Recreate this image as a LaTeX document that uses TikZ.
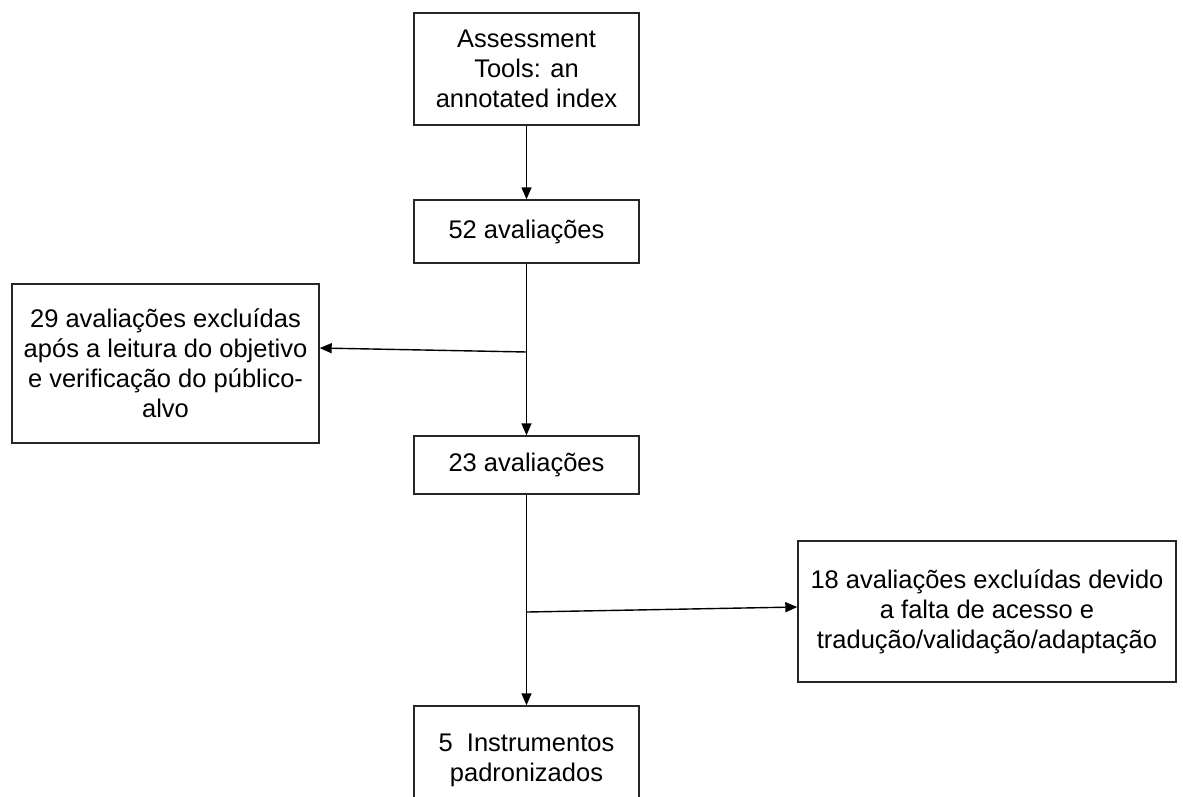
\documentclass[tikz,border=0pt]{standalone}
\usepackage{fontspec}
\setmainfont{Liberation Sans}
\usetikzlibrary{arrows.meta,calc}
\begin{document}
\begin{tikzpicture}[x=1pt,y=-1pt,
  box/.style={draw=black!85, line width=1.4pt, rectangle, align=center, inner sep=0pt,
    font=\fontsize{25.5}{30}\selectfont},
  conn/.style={line width=1.4pt, -{Triangle[length=12pt,width=10pt]}}]
\useasboundingbox (0,0) rectangle (1183,796);
\clip (0,0) rectangle (1183,796);
\fill[white] (0,0) rectangle (1183,796);
\node[box, minimum width=225pt, minimum height=112pt] (src) at (526.5,69) {Assessment\\Tools: an\\annotated index};
\node[box, minimum width=225pt, minimum height=63pt] (n52) at (526.5,231.5) {52 avaliações};
\node[box, minimum width=307pt, minimum height=159pt] (ex29) at (165.5,363.5) {29 avaliações excluídas\\após a leitura do objetivo\\e verificação do público-\\alvo};
\node[box, minimum width=225pt, minimum height=58pt] (n23) at (526.5,465) {23 avaliações};
\node[box, minimum width=378pt, minimum height=141pt] (ex18) at (987,611.5) {18 avaliações excluídas devido\\a falta de acesso e\\tradução/validação/adaptação};
\node[box, minimum width=225pt, minimum height=108pt] (n5) at (526.5,760) {5\ \ Instrumentos\\padronizados};
\coordinate (b1) at (527,352);
\coordinate (b2) at (527,612);
\draw[conn] (src) -- (n52);
\draw[conn] (n52) -- (n23);
\draw[conn] (n23) -- (n5);
\draw[conn] (b1) -- ($(ex29.east)+(0,-15.5)$);
\draw[conn] (b2) -- ($(ex18.west)+(0,-4.5)$);
\end{tikzpicture}
\end{document}
